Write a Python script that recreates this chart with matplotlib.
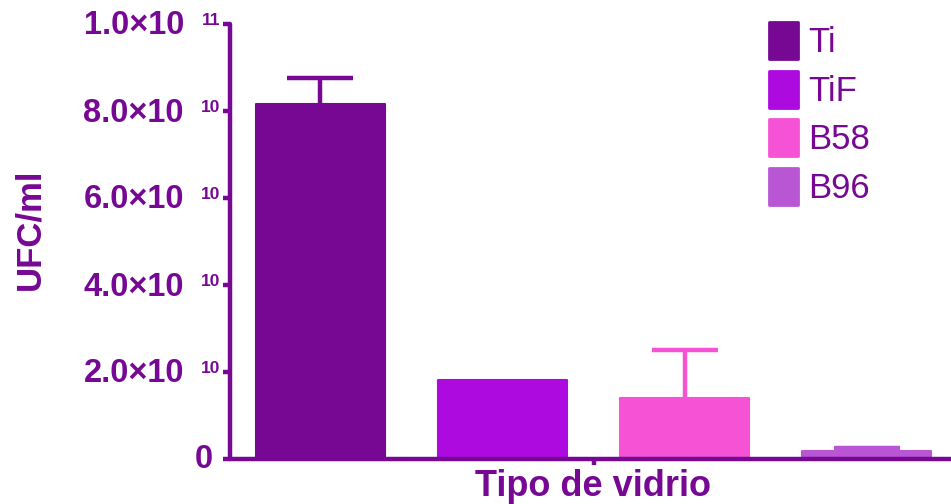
import numpy as np
import matplotlib
matplotlib.use("Agg")
import matplotlib.pyplot as plt

# bacterial counts per glass type (UFC/ml), mean and upper SD
glass_types = ["Ti", "TiF", "B58", "B96"]
ufc_means = [8.16e10, 1.82e10, 1.40e10, 0.18e10]
ufc_err = [0.60e10, 0.0, 1.10e10, 0.07e10]
bar_colors = ["#760894", "#AD0AE0", "#F652D6", "#B856D4"]

# y tick labels: mantissa part and exponent part written separately
y_ticks = [0, 2e10, 4e10, 6e10, 8e10, 1e11]
y_tick_main = ["0", "2.0×10", "4.0×10", "6.0×10", "8.0×10", "1.0×10"]
y_tick_exp = ["", "10", "10", "10", "10", "11"]

AXIS_COLOR = "#760894"

plt.rcParams["font.family"] = ["Liberation Sans", "DejaVu Sans"]

fig = plt.figure(figsize=(9.51, 5.04), dpi=100)
ax = fig.add_axes([230 / 951, 45 / 504, 721 / 951, 435 / 504])

x = np.arange(len(glass_types))

# upper error bars only, drawn behind the bars
for xi, m, e, c in zip(x, ufc_means, ufc_err, bar_colors):
    if e > 0:
        _, caps, _ = ax.errorbar(xi, m, yerr=[[0], [e]], fmt="none", ecolor=c,
                                 elinewidth=3.2, capsize=24, capthick=3.2,
                                 zorder=1)
        caps[0].remove()  # drop the zero-length lower cap

bars = ax.bar(x, ufc_means, width=0.71, color=bar_colors, edgecolor=bar_colors,
              linewidth=1.5, joinstyle="round", zorder=2)

ax.set_xlim(-0.497, 3.464)
ax.set_ylim(0, 1e11)

for side in ["top", "right"]:
    ax.spines[side].set_visible(False)
for side in ["left", "bottom"]:
    ax.spines[side].set_color(AXIS_COLOR)
    ax.spines[side].set_linewidth(3.2)
    ax.spines[side].set_capstyle("round")

ax.set_yticks(y_ticks)
ax.set_yticklabels([""] * len(y_ticks))
ax.tick_params(axis="y", colors=AXIS_COLOR, length=5, width=3.2)

# hand-placed tick labels with a small raised exponent
ylab_trans = ax.get_yaxis_transform()
for t, main, sup in zip(y_ticks, y_tick_main, y_tick_exp):
    if sup:
        ax.annotate(main, xy=(0, t), xycoords=ylab_trans,
                    xytext=(-46, -2), textcoords="offset pixels",
                    ha="right", va="center", fontsize=23.5, fontweight="bold",
                    color=AXIS_COLOR, annotation_clip=False)
        ax.annotate(sup, xy=(0, t), xycoords=ylab_trans,
                    xytext=(-10, -1), textcoords="offset pixels",
                    ha="right", va="baseline", fontsize=12.5, fontweight="bold",
                    color=AXIS_COLOR, annotation_clip=False)
    else:
        ax.annotate(main, xy=(0, t), xycoords=ylab_trans,
                    xytext=(-17, -1), textcoords="offset pixels",
                    ha="right", va="center", fontsize=23.5, fontweight="bold",
                    color=AXIS_COLOR, annotation_clip=False)

ax.set_xticks([1.5])
ax.set_xticklabels([""])
ax.tick_params(axis="x", colors=AXIS_COLOR, length=4, width=3.2)

fig.text(30 / 951, 0.545, "UFC/ml", rotation=90, ha="center", va="center",
         fontsize=25, fontweight="bold", color=AXIS_COLOR)
fig.text(593 / 951, 1 - 486 / 504, "Tipo de vidrio", ha="center", va="center",
         fontsize=26, fontweight="bold", color=AXIS_COLOR)

leg = ax.legend(bars, glass_types, loc="upper left",
                bbox_to_anchor=(769 / 951, 1 - 22 / 504),
                bbox_transform=fig.transFigure, frameon=False,
                fontsize=25, labelcolor=AXIS_COLOR,
                handlelength=0.84, handleheight=1.26, handletextpad=0.3,
                labelspacing=0.33, borderpad=0, borderaxespad=0)
for h, c in zip(leg.legend_handles, bar_colors):
    h.set_edgecolor(c)
    h.set_linewidth(2)
    h.set_joinstyle("round")

fig.savefig("out.png", dpi=100)
